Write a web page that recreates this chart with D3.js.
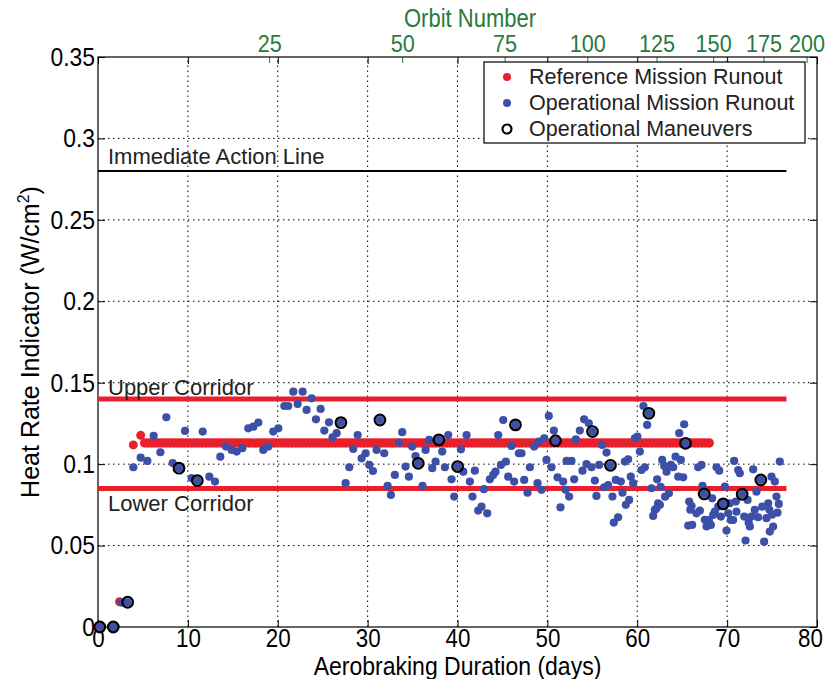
<!DOCTYPE html>
<html>
<head>
<meta charset="utf-8">
<script src="https://cdn.jsdelivr.net/npm/d3@7"></script>
<style>
  body { margin: 0; background: #fff; }
  text { font-family: "Liberation Sans", Arial, Helvetica, sans-serif; }
</style>
</head>
<body>
<div id="chart"></div>
<script>
// ---- data ----
const dayTicks = [0, 10, 20, 30, 40, 50, 60, 70, 80]
const heatTicks = [0, 0.05, 0.1, 0.15, 0.2, 0.25, 0.3, 0.35]
const orbitTicks = [25, 50, 75, 100, 125, 150, 175, 200]
const orbitDays = [19.1, 33.9, 45.3, 54.5, 62.2, 68.5, 74.1, 78.9]

// limit lines (heat rate, last day drawn)
const lineNames = ["Immediate Action Line", "Upper Corridor", "Lower Corridor"]
const lineHeat = [0.28, 0.14, 0.085]
const lineEnd = 76.6

// reference mission runout
const refHeatRate = 0.113
const refEarlyDays = [0.2, 1.7, 2.4, 3.93, 4.75]
const refEarlyHeat = [0, 0, 0.0155, 0.1118, 0.1177]
const refDays = [5.2, 5.6, 6.0, 6.4, 6.8, 7.2, 7.6, 8.0, 8.4, 8.8, 9.2, 9.6, 10.0, 10.4, 10.8,
  11.2, 11.6, 12.0, 12.4, 12.8, 13.2, 13.6, 14.0, 14.4, 14.8, 15.2, 15.6, 16.0, 16.4, 16.8,
  17.2, 17.6, 18.0, 18.4, 18.8, 19.2, 19.6, 20.0, 20.4, 20.8, 21.2, 21.6, 22.0, 22.4, 22.8,
  23.2, 23.6, 24.0, 24.4, 24.8, 25.2, 25.6, 26.0, 26.4, 26.8, 27.2, 27.6, 28.0, 28.4, 28.8,
  29.2, 29.6, 30.0, 30.4, 30.8, 31.2, 31.6, 32.0, 32.4, 32.8, 33.2, 33.6, 34.0, 34.4, 34.8,
  35.2, 35.6, 36.0, 36.4, 36.8, 37.2, 37.6, 38.0, 38.4, 38.8, 39.2, 39.6, 40.0, 40.4, 40.8,
  41.2, 41.6, 42.0, 42.4, 42.8, 43.2, 43.6, 44.0, 44.4, 44.8, 45.2, 45.6, 46.0, 46.4, 46.8,
  47.2, 47.6, 48.0, 48.4, 48.8, 49.2, 49.6, 50.0, 50.4, 50.8, 51.2, 51.6, 52.0, 52.4, 52.8,
  53.2, 53.6, 54.0, 54.4, 54.8, 55.2, 55.6, 56.0, 56.4, 56.8, 57.2, 57.6, 58.0, 58.4, 58.8,
  59.2, 59.6, 60.0, 60.4, 60.8, 61.2, 61.6, 62.0, 62.4, 62.8, 63.2, 63.6, 64.0, 64.4, 64.8,
  65.2, 65.6, 66.0, 66.4, 66.8, 67.2, 67.6, 68.0]

// operational mission runout
const opDays = [0.2, 1.7, 2.6, 3.3,
  3.93, 4.75, 5.49, 6.19, 6.94, 7.60, 8.31, 9.01, 9.68, 10.42, 11.05, 11.65, 12.39, 13.02, 13.61, 14.24, 14.87,
  15.43, 16.06, 16.72, 17.28, 17.84, 18.39, 18.95, 19.50, 20.06, 20.73, 21.17, 21.73, 22.21, 22.77, 23.21, 23.77,
  24.25, 24.77, 25.18, 25.70, 26.10, 26.55, 27.03, 27.55, 27.96, 28.40, 28.89, 29.33, 29.78, 30.18, 30.59, 31.0,
  31.37, 31.85, 32.22, 32.59, 33.03, 33.48, 33.85, 34.22, 34.59, 34.96, 35.33, 35.63, 36.11, 36.45, 36.85, 37.19,
  37.56, 37.93, 38.30, 38.60, 38.97, 39.34, 39.63, 40.01, 40.38, 40.64, 41.01, 41.38, 41.67, 41.93, 42.30, 42.67,
  42.94, 43.31, 43.60, 43.97, 44.23, 44.53, 44.83, 45.09, 45.38, 45.64, 46.01, 46.45, 46.3, 46.83,
  47.12, 47.42, 47.79, 48.05, 48.53, 48.90, 49.05, 49.35, 49.64, 49.90, 50.16, 50.46, 50.72, 50.90, 51.13, 51.46,
  51.76, 52.02, 52.13, 52.42, 52.68, 52.98, 53.17, 53.61, 53.91, 54.09, 54.35, 54.61, 54.91, 55.02, 55.28, 55.46,
  55.76, 56.09, 56.32, 56.58, 56.76, 57.02, 57.24, 57.39, 57.61, 57.87, 58.17, 58.36, 58.62, 58.73, 58.99, 59.10,
  59.28, 59.54, 59.73, 60.02, 60.29, 60.47, 60.69, 60.84, 61.10, 61.29, 61.58, 61.77, 61.96, 62.21, 62.32,
  62.15, 62.52, 62.78, 63.00, 63.26, 63.52, 63.74, 64.00, 64.26, 64.56, 64.67, 64.85, 65.11, 65.22, 65.37, 65.67,
  65.78, 66.04, 66.11, 66.59, 66.78, 66.97, 67.15, 67.26, 67.45, 67.71, 67.97, 68.19, 68.34, 68.63, 68.82, 69.01,
  69.12, 69.30, 69.56, 69.75, 69.93, 70.12, 70.41, 70.67, 70.78, 70.97, 71.23, 71.41, 71.67, 71.90, 72.05, 72.27,
  72.53, 72.71, 72.90, 73.08, 73.27, 73.45, 73.75, 73.90, 74.12, 74.38, 74.57, 74.75, 74.94, 75.12, 75.31, 75.49,
  75.60, 75.75, 75.86, 75.0, 74.7, 67.52, 68.45, 71.04, 72.4, 63.1, 62.6, 65.9, 70.3]
const opHeat = [0, 0, 0.015, 0.0152,
  0.0981, 0.1040, 0.1020, 0.1173, 0.1073, 0.1288, 0.1007, 0.0975, 0.1204, 0.0915, 0.0899, 0.1200, 0.0923, 0.0893, 0.1046, 0.1108, 0.1087,
  0.1077, 0.1098, 0.1220, 0.1230, 0.1255, 0.1087, 0.1108, 0.1200, 0.1220, 0.1357, 0.1357, 0.1445, 0.1370, 0.1445, 0.1333, 0.1404,
  0.1275, 0.1339, 0.1206, 0.1257, 0.1165, 0.1190, 0.1255, 0.0883, 0.0981, 0.1093, 0.1179, 0.1036, 0.1067, 0.0995, 0.0958, 0.1087,
  0.1271, 0.1067, 0.0866, 0.0811, 0.0934, 0.1132, 0.1196, 0.0985, 0.0923, 0.1108, 0.1050, 0.1005, 0.0866, 0.1087, 0.1149, 0.0975,
  0.1016, 0.1149, 0.1077, 0.0981, 0.1179, 0.0907, 0.0801, 0.0985, 0.1091, 0.0954, 0.1179, 0.0893, 0.0801, 0.0960, 0.0715, 0.0739,
  0.0846, 0.0698, 0.0907, 0.0934, 0.0954, 0.1179, 0.0995, 0.1271, 0.1016, 0.0923, 0.1112, 0.1241, 0.0893, 0.1067,
  0.1067, 0.0903, 0.0825, 0.0981, 0.1108, 0.0883, 0.1138, 0.0842, 0.1159, 0.1026, 0.1296, 0.0981, 0.1206, 0.1144, 0.0919, 0.0735,
  0.0893, 0.0842, 0.1020, 0.0801, 0.1020, 0.0907, 0.1153, 0.1206, 0.0960, 0.1275, 0.1001, 0.1251, 0.0981, 0.1200, 0.0899, 0.0805,
  0.0995, 0.1118, 0.0858, 0.1071, 0.0872, 0.0993, 0.0801, 0.0641, 0.0903, 0.0674, 0.0893, 0.0825, 0.1016, 0.0750, 0.1030, 0.0780,
  0.0923, 0.0883, 0.1159, 0.1169, 0.1077, 0.0964, 0.1357, 0.0981, 0.1241, 0.1312, 0.0852, 0.0682, 0.0719, 0.0907, 0.0760,
  0.0729, 0.0750, 0.1026, 0.0989, 0.0954, 0.0821, 0.0995, 0.0981, 0.1046, 0.0923, 0.1190, 0.1026, 0.0919, 0.1245, 0.1128, 0.0623,
  0.0770, 0.0743, 0.0627, 0.0698, 0.0981, 0.0715, 0.0995, 0.0866, 0.0817, 0.0617, 0.0657, 0.0627, 0.0790, 0.0708, 0.0981, 0.0739,
  0.0960, 0.0678, 0.0756, 0.0862, 0.0592, 0.0698, 0.0657, 0.0657, 0.1020, 0.0770, 0.0964, 0.0944, 0.0815, 0.0678, 0.0531, 0.0780,
  0.0617, 0.0678, 0.0968, 0.0719, 0.0831, 0.0674, 0.0903, 0.0739, 0.0524, 0.0668, 0.0760, 0.0586, 0.0923, 0.0617, 0.0893, 0.0801,
  0.0702, 0.0756, 0.1016, 0.0690, 0.0720, 0.0658, 0.0688, 0.0708, 0.0640, 0.0800, 0.0860, 0.0720, 0.0760]

// operational maneuvers
const manDays = [0.2, 1.7, 3.3, 9.01, 11.05, 27.03, 31.37, 35.63, 37.93, 40.01, 46.45, 50.90, 55.02, 57.02,
  61.29, 65.37, 67.45, 69.56, 71.67, 73.75]
const manHeat = [0, 0, 0.0152, 0.0975, 0.0899, 0.1255, 0.1271, 0.1005, 0.1149, 0.0985, 0.1241, 0.1144, 0.1200, 0.0993,
  0.1312, 0.1128, 0.0817, 0.0756, 0.0815, 0.0903]

const legendNames = ["Reference Mission Runout", "Operational Mission Runout", "Operational Maneuvers"]

// ---- layout ----
const W = 828, H = 679
const margin = { top: 57, right: 11, bottom: 52, left: 98 }
const red = "#e8202c", blue = "#3d50a8", green = "#287a3c"

// squeeze text a little sideways (the original font is narrow and tall)
function narrow(sel, k) {
    sel.each(function () {
        const w = this.getComputedTextLength()
        if (w > 0) {
            this.setAttribute("textLength", w * k)
            this.setAttribute("lengthAdjust", "spacingAndGlyphs")
        }
    })
}

const svg = d3.select("#chart").append("svg")
    .attr("width", W)
    .attr("height", H)

const x = d3.scaleLinear().domain([0, 80]).range([margin.left, W - margin.right])
const y = d3.scaleLinear().domain([0, 0.35]).range([H - margin.bottom, margin.top])

const x0 = x.range()[0], x1 = x.range()[1], y0 = y.range()[0], y1 = y.range()[1]

// dotted grid
svg.append("g").selectAll("line")
    .data(dayTicks.slice(1, -1))
    .join("line")
    .attr("x1", d => x(d)).attr("x2", d => x(d))
    .attr("y1", y0).attr("y2", y1)
    .attr("stroke", "#000").attr("stroke-width", 1)
    .attr("stroke-dasharray", "1.5,3.5")
svg.append("g").selectAll("line")
    .data(heatTicks.slice(1, -1))
    .join("line")
    .attr("x1", x0).attr("x2", x1)
    .attr("y1", d => y(d)).attr("y2", d => y(d))
    .attr("stroke", "#000").attr("stroke-width", 1)
    .attr("stroke-dasharray", "1.5,3.5")

// axes
const tickFont = 26
const bottom = svg.append("g")
    .attr("transform", "translate(0," + y0 + ")")
    .call(d3.axisBottom(x).tickValues(dayTicks).tickSize(-7).tickPadding(4).tickFormat(d3.format("d")))
const left = svg.append("g")
    .attr("transform", "translate(" + x0 + ",0)")
    .call(d3.axisLeft(y).tickValues(heatTicks).tickSize(-7).tickPadding(3).tickFormat(d => d === 0 ? "0" : d3.format(".2~f")(d)))
const topBlack = svg.append("g")
    .attr("transform", "translate(0," + y1 + ")")
    .call(d3.axisTop(x).tickValues(dayTicks).tickSize(-7).tickFormat(""))
const right = svg.append("g")
    .attr("transform", "translate(" + x1 + ",0)")
    .call(d3.axisRight(y).tickValues(heatTicks).tickSize(-7).tickFormat(""))

;[bottom, left, topBlack, right].forEach(g => {
    g.select(".domain").remove()
    g.selectAll("line").attr("stroke", "#000")
    g.selectAll("text").attr("font-size", tickFont).attr("fill", "#000")
        .style("font-family", "'Liberation Sans', Arial, sans-serif")
})
bottom.selectAll("text").attr("dy", "0.62em")
bottom.selectAll(".tick:last-of-type text").attr("dx", -7)
narrow(bottom.selectAll("text"), 0.86)
narrow(left.selectAll("text"), 0.88)

// orbit number axis (top, green)
const orbit = svg.append("g")
    .attr("transform", "translate(0," + y1 + ")")
orbit.selectAll("line")
    .data(orbitDays)
    .join("line")
    .attr("x1", d => x(d)).attr("x2", d => x(d))
    .attr("y1", 0).attr("y2", 6)
    .attr("stroke", green).attr("stroke-width", 1)
orbit.selectAll("text")
    .data(orbitTicks)
    .join("text")
    .attr("x", (d, i) => x(orbitDays[i]))
    .attr("y", -5)
    .attr("text-anchor", "middle")
    .attr("font-size", 24)
    .attr("fill", green)
    .text(d => d)
    .call(narrow, 0.9)

svg.append("text")
    .attr("x", 470).attr("y", 27)
    .attr("text-anchor", "middle")
    .attr("font-size", 25)
    .attr("fill", green)
    .text("Orbit Number")
    .call(narrow, 0.88)

// frame
svg.append("rect")
    .attr("x", x0).attr("y", y1)
    .attr("width", x1 - x0).attr("height", y0 - y1)
    .attr("fill", "none").attr("stroke", "#000").attr("stroke-width", 1.2)

// limit lines
svg.append("g").selectAll("line")
    .data(lineHeat)
    .join("line")
    .attr("x1", x(0)).attr("x2", x(lineEnd))
    .attr("y1", d => y(d)).attr("y2", d => y(d))
    .attr("stroke", (d, i) => i === 0 ? "#000" : red)
    .attr("stroke-width", (d, i) => i === 0 ? 2 : 5)

svg.append("g").selectAll("text")
    .data(lineNames)
    .join("text")
    .attr("x", x(0) + 10)
    .attr("y", (d, i) => [164, 395, 511][i])
    .attr("font-size", 22)
    .attr("fill", "#222")
    .text(d => d)

// reference mission runout
const ref = svg.append("g").attr("fill", red)
ref.selectAll("circle.e")
    .data(refEarlyDays)
    .join("circle")
    .attr("cx", d => x(d))
    .attr("cy", (d, i) => y(refEarlyHeat[i]))
    .attr("r", 4.5)
ref.selectAll("circle.b")
    .data(refDays)
    .join("circle")
    .attr("cx", d => x(d))
    .attr("cy", y(refHeatRate))
    .attr("r", 4.8)

// operational mission runout
svg.append("g").attr("fill", blue)
    .selectAll("circle")
    .data(opDays)
    .join("circle")
    .attr("cx", d => x(d))
    .attr("cy", (d, i) => y(opHeat[i]))
    .attr("r", 4.1)

// maneuvers
svg.append("g")
    .selectAll("circle")
    .data(manDays)
    .join("circle")
    .attr("cx", d => x(d))
    .attr("cy", (d, i) => y(manHeat[i]))
    .attr("r", 5.3)
    .attr("fill", "none")
    .attr("stroke", "#000")
    .attr("stroke-width", 2.2)

// axis titles
svg.append("text")
    .attr("x", (x0 + x1) / 2).attr("y", 675)
    .attr("text-anchor", "middle")
    .attr("font-size", 25)
    .text("Aerobraking Duration (days)")
    .call(narrow, 0.92)

const ylab = svg.append("text")
    .attr("transform", "translate(39," + ((y0 + y1) / 2) + ") rotate(-90)")
    .attr("text-anchor", "middle")
    .attr("font-size", 25)
ylab.append("tspan").text("Heat Rate Indicator (W/cm")
ylab.append("tspan").attr("dy", -10).attr("font-size", 16).text("2")
ylab.append("tspan").attr("dy", 10).text(")")

// legend
const lg = svg.append("g").attr("transform", "translate(484,62)")
lg.append("rect")
    .attr("width", 321).attr("height", 81)
    .attr("fill", "#fff").attr("stroke", "#000").attr("stroke-width", 1.2)
const rows = lg.selectAll("g")
    .data(legendNames)
    .join("g")
    .attr("transform", (d, i) => "translate(0," + (15 + i * 26) + ")")
rows.append("circle")
    .attr("cx", 23).attr("cy", 0)
    .attr("r", (d, i) => i === 2 ? 4.5 : 4)
    .attr("fill", (d, i) => i === 0 ? red : i === 1 ? blue : "none")
    .attr("stroke", (d, i) => i === 2 ? "#000" : "none")
    .attr("stroke-width", 2.2)
rows.append("text")
    .attr("x", 45).attr("y", 7)
    .attr("font-size", 21.5)
    .attr("fill", "#222")
    .text(d => d)
</script>
</body>
</html>
